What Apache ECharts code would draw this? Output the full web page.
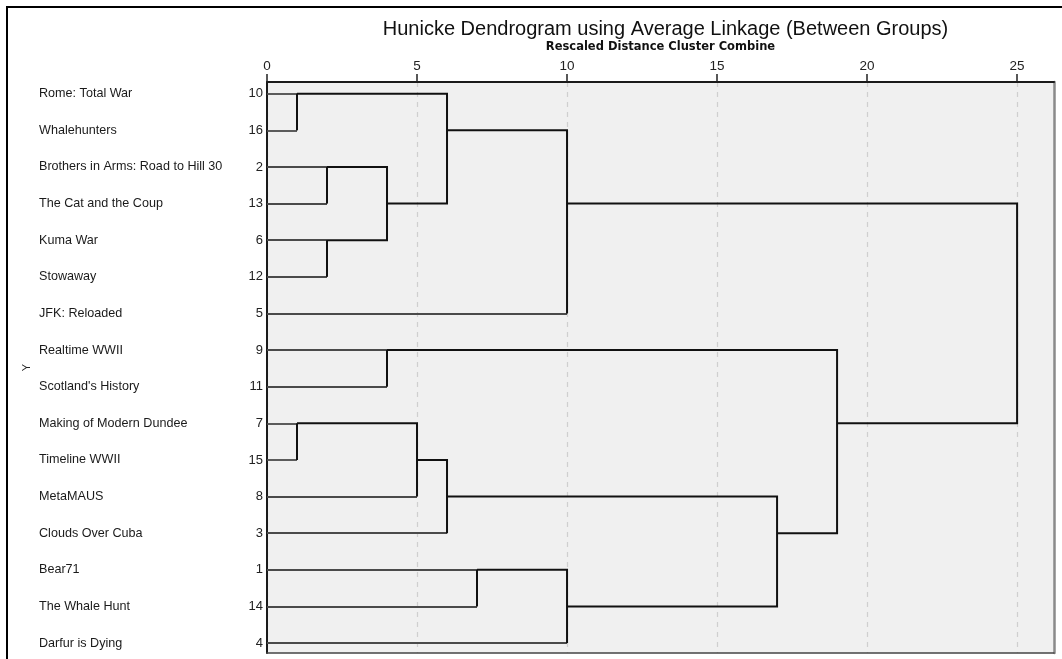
<!DOCTYPE html>
<html>
<head>
<meta charset="utf-8">
<script src="https://cdn.jsdelivr.net/npm/echarts@6/dist/echarts.min.js"></script>
<style>
html,body{margin:0;padding:0;background:#ffffff;}
#chart{width:1062px;height:659px;}
</style>
</head>
<body>
<div id="chart"></div>
<script>
// ---- data ----
const caseNames = [
  'Rome: Total War', 'Whalehunters', 'Brothers in Arms: Road to Hill 30', 'The Cat and the Coup',
  'Kuma War', 'Stowaway', 'JFK: Reloaded', 'Realtime WWII', "Scotland's History",
  'Making of Modern Dundee', 'Timeline WWII', 'MetaMAUS', 'Clouds Over Cuba',
  'Bear71', 'The Whale Hunt', 'Darfur is Dying'
];
const caseNumbers = [10, 16, 2, 13, 6, 12, 5, 9, 11, 7, 15, 8, 3, 1, 14, 4];
// merge steps: node ids 0..15 are leaves (in display order), 16.. are merged clusters
const mergeLeft     = [0, 2, 4, 17, 16, 20, 7, 9, 23, 24, 13, 26, 25, 22, 21];
const mergeRight    = [1, 3, 5, 18, 19, 6, 8, 10, 11, 12, 14, 15, 27, 28, 29];
const mergeDistance = [1, 2, 2, 4, 6, 10, 4, 1, 5, 6, 7, 10, 17, 19, 25];
const xTicks = [0, 5, 10, 15, 20, 25];

// ---- build dendrogram segments ----
const nLeaves = caseNames.length;
const rows = caseNames.map((_, i) => i);
const nodeRow = rows.slice();
const nodeHeight = rows.map(() => 0);
const leafSegs = [];
const clusterSegs = [];
for (let k = 0; k < mergeDistance.length; k++) {
  const a = mergeLeft[k], b = mergeRight[k], d = mergeDistance[k];
  const ra = nodeRow[a], rb = nodeRow[b];
  if (a < nLeaves) leafSegs.push({ coords: [[0, ra], [d, ra]] });
  if (b < nLeaves) leafSegs.push({ coords: [[0, rb], [d, rb]] });
  const xa = a < nLeaves ? d : nodeHeight[a];
  const xb = b < nLeaves ? d : nodeHeight[b];
  clusterSegs.push({ coords: [[xa, ra], [d, ra], [d, rb], [xb, rb]] });
  nodeRow.push(Math.floor((ra + rb) / 2));
  nodeHeight.push(d);
}

const FONT = 'Liberation Sans, Arial, sans-serif';
const yMin = -0.32, yMax = 15.27, xMax = 26.23;

const chart = echarts.init(document.getElementById('chart'), null, { renderer: 'canvas' });
chart.setOption({
  animation: false,
  backgroundColor: '#ffffff',
  title: {
    text: 'Hunicke Dendrogram using Average Linkage (Between Groups)',
    left: 660.5, top: 14, textAlign: 'center',
    textStyle: { fontFamily: FONT, fontSize: 20, fontWeight: 'normal', color: '#111111' }
  },
  graphic: [{
    type: 'rect', silent: true,
    shape: { x: 7, y: 7, width: 1100, height: 700 },
    style: { fill: 'none', stroke: '#000000', lineWidth: 2 }
  }],
  grid: {
    left: 267, top: 82, width: 787, height: 571,
    show: true, backgroundColor: '#f0f0f0', borderWidth: 0
  },
  xAxis: [{
    type: 'value', position: 'top', min: 0, max: xMax, interval: 5,
    name: 'Rescaled Distance Cluster Combine', nameLocation: 'middle', nameGap: 29,
    nameTextStyle: { fontFamily: 'DejaVu Sans, sans-serif', fontSize: 11.5, fontWeight: 'bold', color: '#111111' },
    axisLine: { show: true, onZero: false, lineStyle: { color: '#1a1a1a', width: 2 } },
    axisTick: { show: true, inside: false, length: 8, customValues: xTicks, lineStyle: { color: '#222222', width: 1.5 } },
    axisLabel: { customValues: xTicks, margin: 9, fontFamily: FONT, fontSize: 13.5, color: '#222222',
      formatter: v => String(v) },
    splitLine: { show: true, lineStyle: { color: '#cfcfcf', width: 1.2, type: [5, 5] } }
  }, {
    type: 'value', position: 'bottom', min: 0, max: xMax,
    axisLine: { show: true, onZero: false, lineStyle: { color: '#444444', width: 1.5 } },
    axisTick: { show: false }, axisLabel: { show: false }, splitLine: { show: false }
  }],
  yAxis: [{
    type: 'value', position: 'left', inverse: true, min: yMin, max: yMax,
    name: 'Y', nameLocation: 'middle', nameGap: 235, nameRotate: 90,
    nameTextStyle: { fontFamily: FONT, fontSize: 11, color: '#222222' },
    axisLine: { show: true, onZero: false, lineStyle: { color: '#1a1a1a', width: 2 } },
    axisTick: { show: false },
    axisLabel: { customValues: rows, margin: 4, padding: [3, 0, 0, 0], fontFamily: FONT, fontSize: 13, color: '#222222',
      formatter: v => String(caseNumbers[Math.round(v)]) },
    splitLine: { show: false }
  }, {
    type: 'value', position: 'left', inverse: true, min: yMin, max: yMax,
    axisLine: { show: false, onZero: false }, axisTick: { show: false },
    axisLabel: { customValues: rows, margin: 228, align: 'left', padding: [3, 0, 0, 0], fontFamily: FONT, fontSize: 12.6, color: '#1a1a1a',
      formatter: v => caseNames[Math.round(v)] },
    splitLine: { show: false }
  }, {
    type: 'value', position: 'right', inverse: true, min: yMin, max: yMax,
    axisLine: { show: true, onZero: false, lineStyle: { color: '#8a8a8a', width: 2.5 } },
    axisTick: { show: false }, axisLabel: { show: false }, splitLine: { show: false }
  }],
  series: [{
    type: 'lines', coordinateSystem: 'cartesian2d', xAxisIndex: 0, yAxisIndex: 0,
    polyline: false, silent: true, z: 3,
    lineStyle: { color: '#4a4a4a', width: 1.8, opacity: 1, curveness: 0 },
    data: leafSegs
  }, {
    type: 'lines', coordinateSystem: 'cartesian2d', xAxisIndex: 0, yAxisIndex: 0,
    polyline: true, silent: true, z: 4,
    lineStyle: { color: '#111111', width: 2, opacity: 1, curveness: 0, join: 'miter' },
    data: clusterSegs
  }]
});
</script>
</body>
</html>
